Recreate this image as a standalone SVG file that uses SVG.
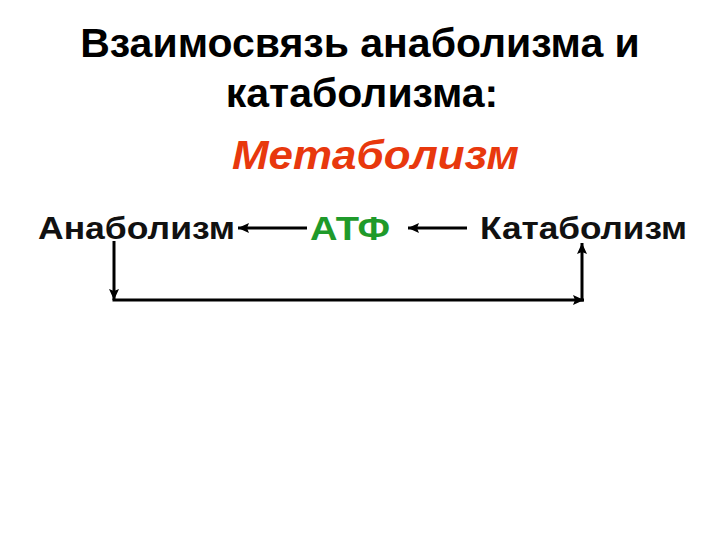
<svg xmlns="http://www.w3.org/2000/svg" width="720" height="540" viewBox="0 0 720 540">
  <defs>
    <marker id="ah" markerUnits="userSpaceOnUse" markerWidth="11" markerHeight="11" refX="11" refY="5.5" orient="auto">
      <path d="M0,0.5 L11,5.5 L0,10.5 L2,5.5 z" fill="#000"/>
    </marker>
  </defs>
  <style>
    text { font-family: "Liberation Sans", Arial, sans-serif; font-weight: bold; }
    .title { font-size: 41px; fill: #000; }
    .meta { font-size: 40px; font-style: italic; fill: #e8380d; }
    .node { font-size: 32px; fill: #111; }
    .atf { font-size: 34px; fill: #1f9a2a; }
    .conn { stroke: #000; stroke-width: 3; fill: none; marker-end: url(#ah); }
  </style>
  <rect width="720" height="540" fill="#fff"/>
  <g id="title">
    <text class="title" x="360" y="57" text-anchor="middle">Взаимосвязь анаболизма и</text>
    <text class="title" x="362" y="107" text-anchor="middle">катаболизма:</text>
  </g>
  <g id="metabolism">
    <text class="meta" x="232" y="169" textLength="287" lengthAdjust="spacingAndGlyphs">Метаболизм</text>
  </g>
  <g id="anabolism">
    <text class="node" x="38" y="239" textLength="197" lengthAdjust="spacingAndGlyphs">Анаболизм</text>
  </g>
  <g id="atp">
    <text class="atf" x="310" y="240" textLength="80" lengthAdjust="spacingAndGlyphs">АТФ</text>
  </g>
  <g id="catabolism">
    <text class="node" x="480" y="239" textLength="207" lengthAdjust="spacingAndGlyphs">Катаболизм</text>
  </g>
  <g id="connectors">
    <path class="conn" d="M307,228 L238,228"/>
    <path class="conn" d="M467,228 L408,228"/>
    <path class="conn" d="M114,241 L114,300"/>
    <path class="conn" d="M112.5,300 L584,300"/>
    <path class="conn" d="M582,301.5 L582,243"/>
  </g>
</svg>
